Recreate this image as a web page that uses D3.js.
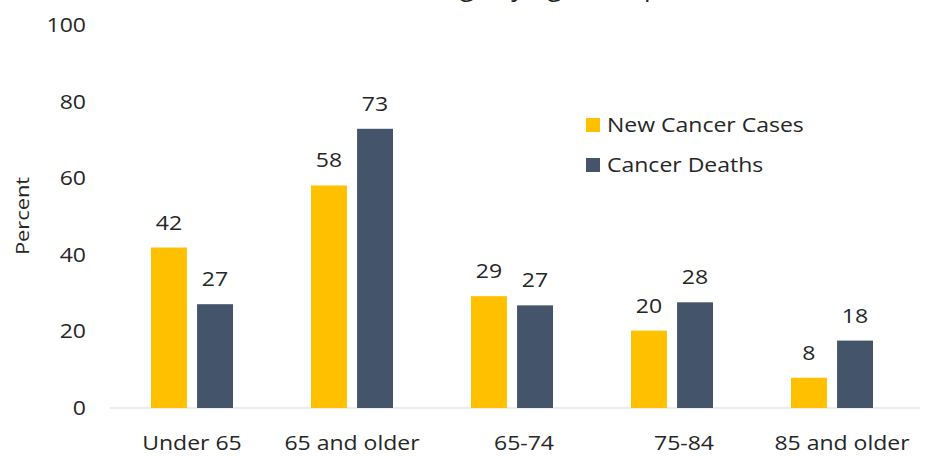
<!DOCTYPE html>
<html>
<head>
<meta charset="utf-8">
<script src="https://cdn.jsdelivr.net/npm/d3@7"></script>
<style>
  html, body { margin: 0; padding: 0; background: #fff; }
  svg { display: block; }
  text { font-family: "Open Sans", "Noto Sans", sans-serif; fill: #262626; }
</style>
</head>
<body>
<svg id="chart" width="930" height="456"></svg>
<script>
const categories = ["Under 65", "65 and older", "65-74", "75-84", "85 and older"];
const seriesNames = ["New Cancer Cases", "Cancer Deaths"];
const newCases = [41.9, 58.1, 29.2, 20.2, 7.9];
const deaths = [27.1, 72.9, 26.8, 27.6, 17.6];
const yTicks = [0, 20, 40, 60, 80, 100];
const colors = ["#FFC000", "#44546A"];
const titleText = "Percentage by Age Group, US, 2014";
const yTitle = "Percent";

const svg = d3.select("#chart");
const series = [newCases, deaths];
const widen = 1.15;

const x = d3.scaleBand().domain(categories).range([112, 912]).paddingInner(0.4875).paddingOuter(0.24375);
const xSub = d3.scaleBand().domain(seriesNames).range([0, x.bandwidth()]).paddingInner(0.22);
const y = d3.scaleLinear().domain([0, 100]).range([408, 25]);

// baseline
svg.append("line").attr("x1", 110).attr("x2", 920).attr("y1", y(0)).attr("y2", y(0))
  .attr("stroke", "#d9d9d9").attr("stroke-width", 1.2);

// y axis
const yAxis = d3.axisLeft(y).tickValues(yTicks).tickSize(0).tickPadding(0);
const gy = svg.append("g").attr("transform", "translate(86,0)").call(yAxis);
gy.select(".domain").remove();
gy.selectAll("text").style("font-size", "20px").attr("fill", "#262626")
  .style("font-family", "'Open Sans', sans-serif");

// x axis
const labelShift = [0, 0, 12, 12, 10];
const xAxis = d3.axisBottom(x).tickSize(0).tickPadding(0);
const gx = svg.append("g").attr("transform", "translate(0,436)").call(xAxis);
gx.select(".domain").remove();
gx.selectAll("text").style("font-size", "20px").attr("fill", "#262626")
  .style("font-family", "'Open Sans', sans-serif")
  .attr("dx", (d, i) => labelShift[i]);

// bars
const groups = svg.append("g").selectAll("g").data(categories).join("g")
  .attr("transform", d => `translate(${x(d)},0)`);
seriesNames.forEach((s, si) => {
  groups.append("rect")
    .attr("x", xSub(s)).attr("width", xSub.bandwidth())
    .attr("y", (d, i) => y(series[si][i]))
    .attr("height", (d, i) => y(0) - y(series[si][i]))
    .attr("fill", colors[si]);
  groups.append("text")
    .attr("x", xSub(s) + xSub.bandwidth() / 2)
    .attr("y", (d, i) => y(series[si][i]) - 18)
    .attr("text-anchor", "middle").style("font-size", "20px")
    .text((d, i) => d3.format(".0f")(series[si][i]));
});

// y title
svg.append("text").attr("transform", "translate(29,216) rotate(-90)")
  .attr("text-anchor", "middle").style("font-size", "19px").text(yTitle);

// legend
const legend = svg.append("g").selectAll("g").data(seriesNames).join("g")
  .attr("transform", (d, i) => `translate(586,${118 + i * 40})`);
legend.append("rect").attr("width", 14).attr("height", 14).attr("fill", (d, i) => colors[i]);
legend.append("text").attr("x", 21).attr("y", 14).style("font-size", "20px").text(d => d);

// the source typeface is wider than the available fonts: stretch glyphs slightly
svg.selectAll("text").each(function () {
  const len = this.getComputedTextLength();
  d3.select(this).attr("textLength", len * widen).attr("lengthAdjust", "spacingAndGlyphs");
});

// title: only the bottom of its last line is visible at the top edge of the source image
svg.append("text").attr("x", 566).attr("y", -4).attr("text-anchor", "middle")
  .style("font-size", "26px").text(titleText);
</script>
</body>
</html>
